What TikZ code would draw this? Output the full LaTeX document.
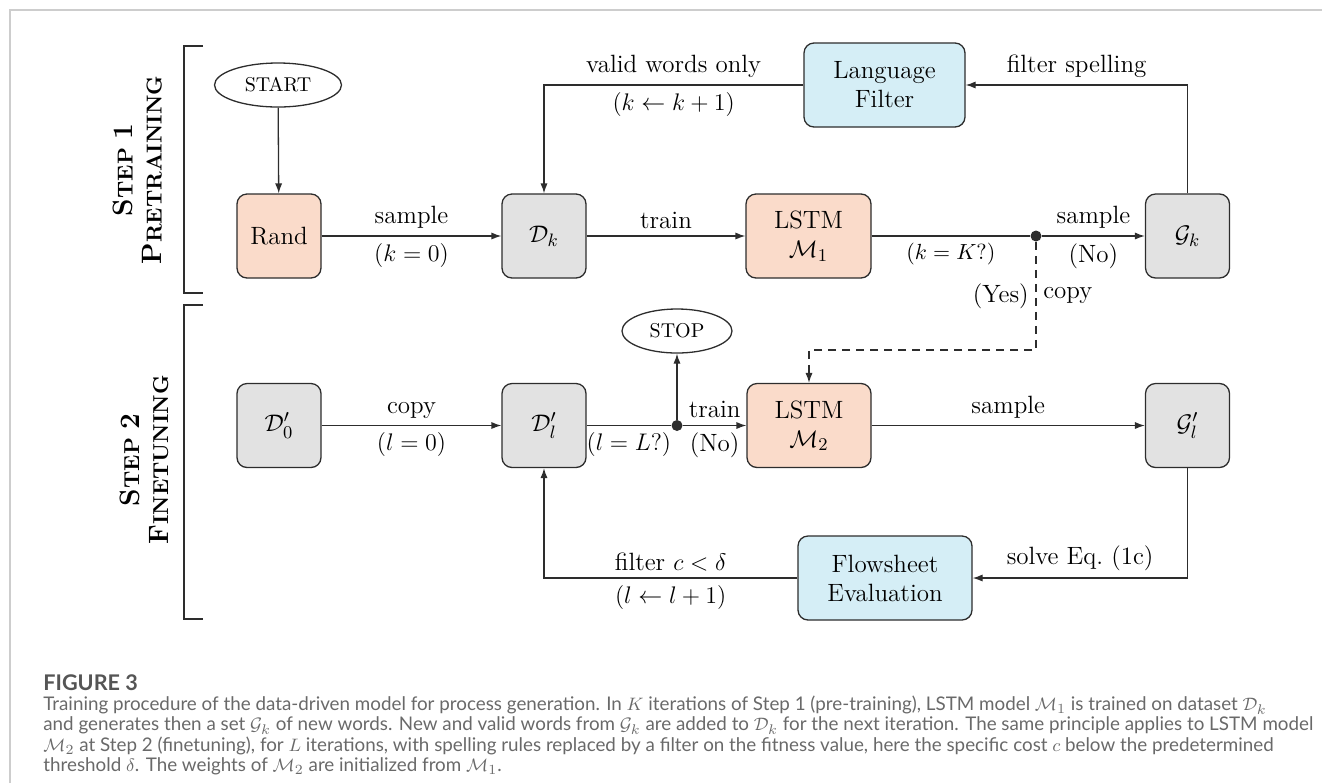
\documentclass[tikz,border=0pt]{standalone}
\usepackage{fontspec}
\usepackage{amsmath}
\newfontfamily\capfont{Lato}
\usetikzlibrary{arrows.meta,shapes.geometric}
\definecolor{linec}{RGB}{45,45,45}
\definecolor{peachc}{RGB}{250,219,202}
\definecolor{grayc}{RGB}{226,226,226}
\definecolor{bluec}{RGB}{213,238,246}
\definecolor{borderc}{RGB}{205,205,205}
\definecolor{captc}{RGB}{105,105,105}
\definecolor{figc}{RGB}{85,85,85}
\newcommand\mainfs{\fontsize{12.5}{14.5}\selectfont}
\newcommand\stepA{\fontsize{14}{15}\selectfont\bfseries}
\newcommand\stepB{\fontsize{10.8}{15}\selectfont\bfseries}
\begin{document}
\begin{tikzpicture}[x=0.5pt,y=-0.5pt,
  every node/.style={font=\mainfs},
  boxn/.style={draw=linec, line width=0.65pt, rounded corners=5pt, minimum width=42pt, minimum height=42pt, inner sep=0pt, align=center},
  peachbox/.style={boxn, fill=peachc},
  graybox/.style={boxn, fill=grayc},
  bluebox/.style={boxn, fill=bluec},
  term/.style={ellipse, draw=linec, line width=0.65pt, inner sep=0pt, minimum height=22pt, font=\fontsize{10}{12}\selectfont},
  dotn/.style={circle, fill=linec, inner sep=0pt, minimum size=5.5pt},
  plain/.style={draw=linec, line width=0.65pt},
  conn/.style={plain, -{Latex[length=5pt,width=3.6pt]}},
  dconn/.style={conn, dash pattern=on 4pt off 3pt},
  smalllbl/.style={font=\fontsize{10.5}{12}\selectfont},
  steplbl/.style={rotate=90, align=center},
  caption/.style={anchor=west, inner sep=0pt, text=captc, font=\capfont\fontsize{9.4}{11}\selectfont}
]
\useasboundingbox (0,0) rectangle (1322,783);
\draw[borderc, line width=1pt] (9.5,783) -- (9.5,9.5) -- (1322,9.5);

% step brackets and labels
\draw[plain] (203,46) -- (184,46) -- (184,293) -- (203,293);
\draw[plain] (203,305) -- (184,305) -- (184,619) -- (203,619);
\node[steplbl] (s1) at (137.5,170) {\stepA S\stepB TEP \stepA 1\\\stepA P\stepB RETRAINING};
\node[steplbl] (s2) at (144,460) {\stepA S\stepB TEP \stepA 2\\\stepA F\stepB INETUNING};

% step 1 nodes
\node[term, minimum width=63.5pt] (start) at (278,85) {START};
\node[peachbox] (rand) at (279,236) {Rand};
\node[graybox] (dk) at (544,236) {$\mathcal{D}_k$};
\node[peachbox, minimum width=62.5pt] (m1) at (808.5,236) {LSTM\\$\mathcal{M}_1$};
\node[graybox] (gk) at (1187.5,236) {$\mathcal{G}_k$};
\node[bluebox, minimum width=80.5pt] (lf) at (884.5,85) {Language\\Filter};
\node[dotn] (d1) at (1036,236) {};
\coordinate (c1) at (1036,350);

% step 2 nodes
\node[graybox] (d0) at (279,425.5) {$\mathcal{D}'_0$};
\node[graybox] (dl) at (544,425.5) {$\mathcal{D}'_l$};
\node[peachbox, minimum width=62pt] (m2) at (809,425.5) {LSTM\\$\mathcal{M}_2$};
\node[graybox] (gl) at (1187.5,425.5) {$\mathcal{G}'_l$};
\node[term, minimum width=55pt] (stop) at (677,331) {STOP};
\node[dotn] (d2) at (677,425.5) {};
\node[bluebox, minimum width=87pt] (fe) at (885,578) {Flowsheet\\Evaluation};

% step 1 connectors
\draw[conn] (start) -- (rand);
\draw[conn] (rand) -- node[above]{sample} node[below]{$(k=0)$} (dk);
\draw[conn] (dk) -- node[above]{train} (m1);
\draw[plain] (m1) -- node[below, smalllbl]{$(k=K?)$} (d1);
\draw[conn] (d1) -- node[above]{sample} node[below]{(No)} (gk);
\draw[conn] (gk.north) |- node[pos=0.75, above]{filter spelling} (lf.east);
\draw[conn] (lf.west) -| node[pos=0.25, above]{valid words only} node[pos=0.25, below]{$(k\leftarrow k+1)$} (dk.north);
\draw[dconn] (d1) -- node[left]{(Yes)} node[right]{copy} (c1) -| (m2.north);

% step 2 connectors
\draw[conn] (d0) -- node[above]{copy} node[below]{$(l=0)$} (dl);
\draw[plain] (dl) -- node[below]{$(l=L?)$} (d2);
\draw[conn] (d2) -- (stop);
\draw[conn] (d2) -- node[above]{train} node[below]{(No)} (m2);
\draw[conn] (m2) -- node[above]{sample} (gl);
\draw[conn] (gl.south) |- node[pos=0.75, above]{solve Eq.~(1c)} (fe.east);
\draw[conn] (fe.west) -| node[pos=0.25, above]{filter $c<\delta$} node[pos=0.25, below]{$(l\leftarrow l+1)$} (dl.south);

% caption
\node[caption, text=figc, font=\capfont\bfseries\fontsize{10.8}{12}\selectfont] (figt) at (43,683) {FIGURE 3};
\node[caption] (cap1) at (43,705) {Training procedure of the data-driven model for process generation. In $K$ iterations of Step 1 (pre-training), LSTM model $\mathcal{M}_1$ is trained on dataset $\mathcal{D}_k$};
\node[caption] (cap2) at (43,725.5) {and generates then a set $\mathcal{G}_k$ of new words. New and valid words from $\mathcal{G}_k$ are added to $\mathcal{D}_k$ for the next iteration. The same principle applies to LSTM model};
\node[caption] (cap3) at (43,746) {$\mathcal{M}_2$ at Step 2 (finetuning), for $L$ iterations, with spelling rules replaced by a filter on the fitness value, here the specific cost $c$ below the predetermined};
\node[caption] (cap4) at (43,766.5) {threshold $\delta$. The weights of $\mathcal{M}_2$ are initialized from $\mathcal{M}_1$.};
\end{tikzpicture}
\end{document}
